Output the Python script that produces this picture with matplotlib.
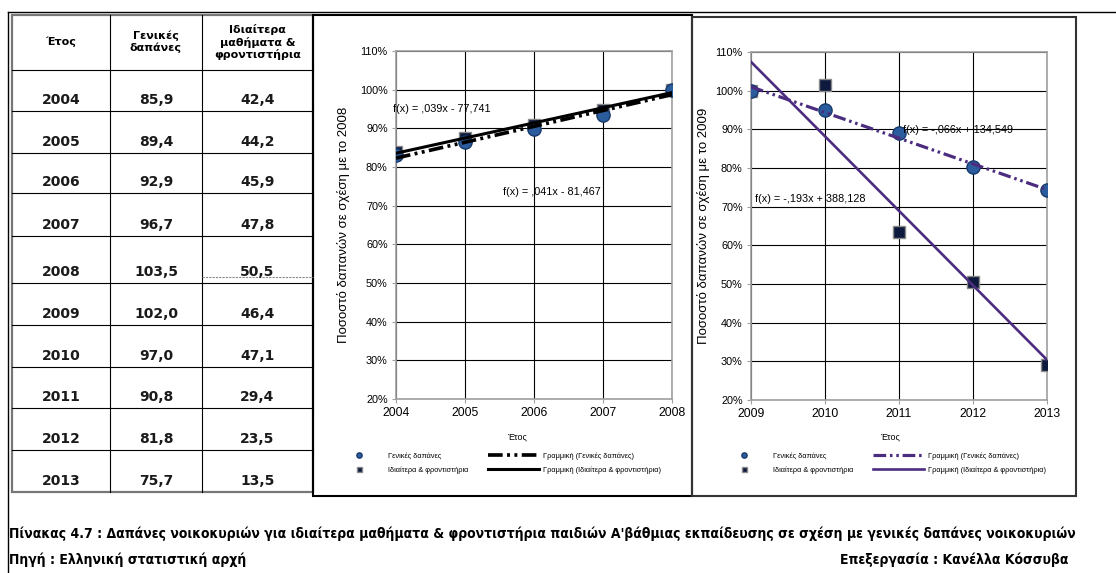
import numpy as np
import matplotlib
matplotlib.use("Agg")
import matplotlib.pyplot as plt
from matplotlib import font_manager
from matplotlib.patches import Rectangle

# data from the table
years = [2004, 2005, 2006, 2007, 2008, 2009, 2010, 2011, 2012, 2013]
general = [85.9, 89.4, 92.9, 96.7, 103.5, 102.0, 97.0, 90.8, 81.8, 75.7]
tutoring = [42.4, 44.2, 45.9, 47.8, 50.5, 46.4, 47.1, 29.4, 23.5, 13.5]
headers = ["Έτος", "Γενικές\nδαπάνες", "Ιδιαίτερα\nμαθήματα &\nφροντιστήρια"]

eq_labels_1 = ["f(x) = ,039x - 77,741", "f(x) = ,041x - 81,467"]
eq_labels_2 = ["f(x) = -,066x + 134,549", "f(x) = -,193x + 388,128"]

caption = ("Πίνακας 4.7 : Δαπάνες νοικοκυριών για ιδιαίτερα μαθήματα & φροντιστήρια "
           "παιδιών Α'βάθμιας εκπαίδευσης σε σχέση με γενικές δαπάνες νοικοκυριών")
source = "Πηγή : Ελληνική στατιστική αρχή"
editor = "Επεξεργασία : Κανέλλα Κόσσυβα"

W, H = 1116, 573
# a condensed bold face for the caption, if there is one
cond = [f.fname for f in font_manager.fontManager.ttflist
        if 'DejaVuSansCondensed-Bold.' in f.fname]
if cond:
    cap_font = font_manager.FontProperties(fname=cond[0])
else:
    cap_font = font_manager.FontProperties(family='DejaVu Sans', weight='bold')
plt.rcParams['font.family'] = ['Liberation Sans', 'DejaVu Sans']

fig = plt.figure(figsize=(W / 100, H / 100), dpi=100)
bg = fig.add_axes([0, 0, 1, 1])
bg.set_xlim(0, W)
bg.set_ylim(H, 0)
bg.axis('off')

# outer frame
bg.plot([8, W], [12, 12], color='black', lw=1)
bg.plot([8, 8], [12, H], color='black', lw=1)

# table
col_edges = [12, 110, 202, 313]
row_edges = [15, 70, 111, 153, 193, 236, 283, 325, 367, 408, 450, 492]
for y in row_edges[1:-1]:
    bg.plot([col_edges[0], col_edges[-1]], [y, y], color='black', lw=0.8)
for x in col_edges[1:-1]:
    bg.plot([x, x], [row_edges[0], row_edges[-1]], color='black', lw=0.8)
bg.add_patch(Rectangle((col_edges[0], row_edges[0]), col_edges[-1] - col_edges[0],
                       row_edges[-1] - row_edges[0], fill=False, ec='#777777', lw=1.6))
bg.plot([202, 313], [277, 277], color='#888888', lw=0.8, ls=(0, (2, 1)))

for j, h in enumerate(headers):
    bg.text((col_edges[j] + col_edges[j + 1]) / 2, 42, h, ha='center', va='center',
            fontsize=8, fontweight='bold', family='DejaVu Sans', linespacing=1.15)
for i, yr in enumerate(years):
    yc = row_edges[i + 2] - 11
    vals = [str(yr), f"{general[i]:.1f}".replace('.', ','), f"{tutoring[i]:.1f}".replace('.', ',')]
    for j, v in enumerate(vals):
        bg.text((col_edges[j] + col_edges[j + 1]) / 2, yc, v, ha='center', va='center',
                fontsize=10, fontweight='bold', family='DejaVu Sans', color='#1a1a1a')

# chart boxes
bg.add_patch(Rectangle((313, 15), 379, 481, fill=False, ec='black', lw=1.5))
bg.add_patch(Rectangle((692, 17), 384, 479, fill=False, ec='#333333', lw=1.5))


def px_axes(x0, y0, x1, y1):
    return fig.add_axes([x0 / W, 1 - y1 / H, (x1 - x0) / W, (y1 - y0) / H])


def draw_chart(ax, yrs, gen, tut, base, color, lw, ylabel, eqs, eq_pos, label_x, leg_xy):
    yrs = np.array(yrs)
    g = np.array(gen) / gen[base] * 100
    t = np.array(tut) / tut[base] * 100
    sc1, = ax.plot(yrs, g, 'o', ms=9.5, mfc='#2b5c9e', mec='#173a6b', mew=1, zorder=4,
                   label='Γενικές δαπάνες')
    sc2, = ax.plot(yrs, t, 's', ms=9, mfc='#0d1a3d', mec='#8a8a8a', mew=1, zorder=3,
                   label='Ιδιαίτερα & φροντιστήρια')
    xs = np.array([yrs[0], yrs[-1]])
    pg = np.polyfit(yrs, g, 1)
    pt = np.polyfit(yrs, t, 1)
    l1, = ax.plot(xs, np.polyval(pg, xs), color=color, lw=lw * 1.2, zorder=5,
                  ls=(0, (4, 1.2, 0.8, 1.2, 0.8, 1.2)), label='Γραμμική (Γενικές δαπάνες)')
    l2, = ax.plot(xs, np.polyval(pt, xs), color=color, lw=lw, zorder=5,
                  label='Γραμμική (Ιδιαίτερα & φροντιστήρια)')
    for txt, (ex, ey) in zip(eqs, eq_pos):
        ax.text(ex, ey, txt, fontsize=7.8, va='center', ha='left', zorder=6)
    ax.set_xlim(yrs[0], yrs[-1])
    ax.set_ylim(20, 110)
    ax.set_xticks(yrs)
    ax.set_yticks(range(20, 111, 10))
    ax.set_yticklabels([f"{v}%" for v in range(20, 111, 10)], fontsize=7.8)
    ax.set_xticklabels([str(y) for y in yrs], fontsize=8.7)
    ax.grid(True, color='black', lw=0.8)
    ax.set_axisbelow(True)
    for s in ax.spines.values():
        s.set_color('#a0a0a0')
        s.set_linewidth(1.2)
    ax.tick_params(colors='#a0a0a0', labelcolor='black', length=3, pad=3)
    ax.set_ylabel(ylabel, fontsize=9.5)
    ax.yaxis.set_label_coords(label_x, 0.5)
    ax.legend(handles=[sc1, sc2, l1, l2], ncol=2, fontsize=5.3, frameon=False,
              loc='upper left', bbox_to_anchor=leg_xy, bbox_transform=bg.transData,
              handlelength=7, handletextpad=0.5, columnspacing=2.6, markerscale=0.4,
              labelspacing=0.9, borderpad=0, borderaxespad=0)


ax1 = px_axes(396, 51, 672, 399)
draw_chart(ax1, years[:5], general[:5], tutoring[:5], -1, 'black', 2.2,
           "Ποσοστό δαπανών σε σχέση με το 2008", eq_labels_1,
           [(2003.96, 95.0), (2005.55, 73.5)], -0.168, (333, 452))
bg.text(517, 437, "Έτος", ha='center', va='center', fontsize=6.5)

ax2 = px_axes(751, 52, 1047, 400)
draw_chart(ax2, years[5:], general[5:], tutoring[5:], 0, '#4b2c7f', 1.9,
           "Ποσοστό δαπανών σε σχέση με το 2009", eq_labels_2,
           [(2011.05, 89.8), (2009.05, 72.0)], -0.140, (718, 452))
bg.text(890, 437, "Έτος", ha='center', va='center', fontsize=6.5)

# caption, fitted to width
cap = bg.text(9, 534, caption, ha='left', va='center', fontsize=9, fontproperties=cap_font)
cap.set_fontsize(9)
fig.canvas.draw()
w = cap.get_window_extent().width
cap.set_fontsize(9 * 1063 / w)
fs = cap.get_fontsize()
for x, txt, ha in [(9, source, 'left'), (1068, editor, 'right')]:
    t = bg.text(x, 560, txt, ha=ha, va='center', fontproperties=cap_font)
    t.set_fontsize(fs)

fig.savefig('out.png', dpi=100)
